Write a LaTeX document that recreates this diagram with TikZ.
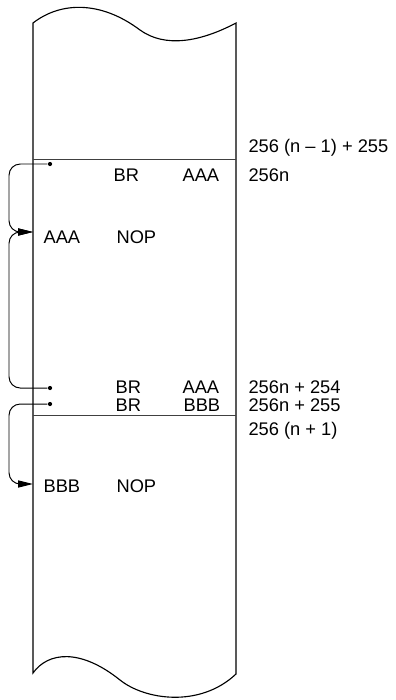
\documentclass[tikz,border=0pt]{standalone}
\usepackage{fontspec}
\setmainfont{Liberation Sans}
\usetikzlibrary{arrows.meta}

\begin{document}
\begin{tikzpicture}[x=0.025cm, y=-0.025cm, line width=0.8pt,
    lbl/.style={anchor=base west, inner sep=0pt, font=\fontsize{13}{15}\selectfont},
    dot/.style={circle, fill, inner sep=0pt, minimum size=3pt},
    jump/.style={-{Triangle[length=10.5pt, width=5pt]}, rounded corners=8pt, line width=0.7pt}]
  \useasboundingbox (0,0) rectangle (396,700);

  % memory page, torn at top and bottom
  \draw (33,23) .. controls (60,2) and (100,0) .. (140,30)
        .. controls (165,48) and (200,42) .. (236,23) -- (236,674)
        .. controls (200,708) and (145,700) .. (120,680)
        .. controls (80,648) and (48,652) .. (33,673) -- cycle;
  \draw[line width=0.6pt, black!75] (33,159) -- (236,159);
  \draw[line width=0.6pt, black!75] (33,415) -- (236,415);

  % page addresses
  \node[lbl] (a0) at (248,152) {256 (n \textendash\ 1) + 255};
  \node[lbl] (a1) at (248,181) {256n};
  \node[lbl] (a2) at (248,393) {256n + 254};
  \node[lbl] (a3) at (248,411) {256n + 255};
  \node[lbl] (a4) at (248,435) {256 (n + 1)};

  % instructions
  \node[lbl] (br1) at (113,181) {BR};
  \node[lbl] (op1) at (182,181) {AAA};
  \node[lbl] (labA) at (43,243) {AAA};
  \node[lbl] (nopA) at (116,243) {NOP};
  \node[lbl] (br2) at (115,393) {BR};
  \node[lbl] (op2) at (182,393) {AAA};
  \node[lbl] (br3) at (115,411) {BR};
  \node[lbl] (op3) at (183,411) {BBB};
  \node[lbl] (labB) at (43,492) {BBB};
  \node[lbl] (nopB) at (116,492) {NOP};

  % branch sources and targets
  \node[dot] (d1) at (50,164) {};
  \node[dot] (d2) at (50,388) {};
  \node[dot] (d3) at (50,404) {};
  \coordinate (lx) at (9,0);
  \coordinate (tipA) at (33,232);
  \coordinate (tipB) at (33,484);

  \draw[jump] (d1) -- (d1 -| lx) |- (tipA);
  \draw[jump] (d2) -- (d2 -| lx) |- (tipA);
  \draw[jump] (d3) -- (d3 -| lx) |- (tipB);
\end{tikzpicture}
\end{document}
